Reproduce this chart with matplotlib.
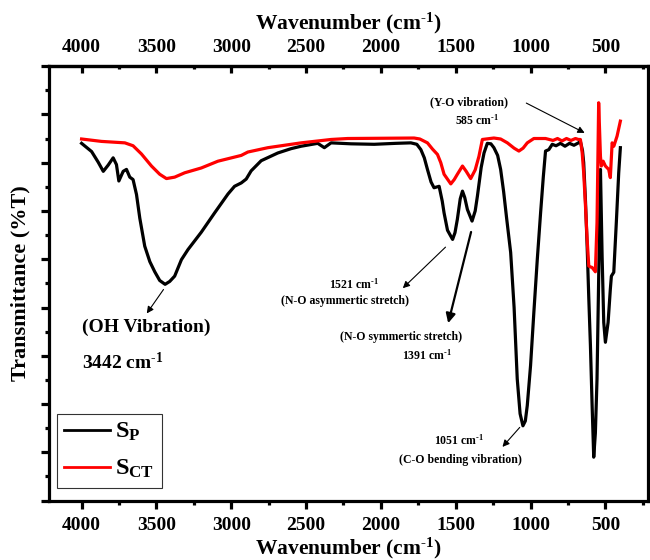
import matplotlib
matplotlib.use("Agg")
import matplotlib.pyplot as plt
from matplotlib.ticker import MultipleLocator

plt.rcParams['font.family'] = 'Liberation Serif'
plt.rcParams['font.weight'] = 'bold'
plt.rcParams['mathtext.fontset'] = 'custom'
plt.rcParams['mathtext.rm'] = 'Liberation Serif:bold'
plt.rcParams['mathtext.it'] = 'Liberation Serif:bold'
plt.rcParams['mathtext.bf'] = 'Liberation Serif:bold'

# FTIR spectra (wavenumber in cm-1, transmittance in arbitrary %T units)
wn_p = [4000, 3933, 3889, 3855, 3822, 3789, 3767, 3751, 3722, 3700, 3678, 3656,
        3633, 3611, 3578, 3544, 3511, 3478, 3442, 3411, 3378, 3333, 3289, 3200,
        3111, 3022, 2978, 2933, 2900, 2867, 2800, 2689, 2600, 2533, 2422, 2378,
        2333, 2200, 2045, 1900, 1800, 1760, 1733, 1710, 1689, 1665, 1645, 1611,
        1590, 1578, 1555, 1521, 1505, 1489, 1470, 1455, 1440, 1422, 1391, 1370,
        1355, 1330, 1311, 1289, 1265, 1245, 1220, 1200, 1180, 1160, 1133, 1110,
        1089, 1070, 1051, 1035, 1022, 1000, 978, 955, 933, 915, 900, 878, 855,
        830, 800, 770, 740, 710, 680, 667, 653, 645, 633, 622, 611, 600, 589,
        578, 567, 556, 545, 533, 522, 511, 500, 482, 467, 460, 444, 427, 411, 400]
t_p = [74.0, 72.3, 70.1, 68.2, 69.5, 71.0, 69.6, 66.2, 68.2, 68.6, 67.0, 66.5,
       63.4, 58.5, 52.7, 49.5, 47.4, 45.6, 44.8, 45.4, 46.5, 49.9, 52.0, 55.6,
       59.6, 63.5, 65.1, 65.8, 66.6, 68.3, 70.4, 72.0, 72.9, 73.4, 74.0, 73.1,
       74.1, 73.9, 73.8, 74.0, 74.1, 73.8, 72.7, 71.0, 68.6, 66.0, 64.8, 65.1,
       62.0, 59.6, 56.0, 54.1, 55.5, 58.3, 62.5, 64.1, 62.8, 60.3, 57.9, 60.0,
       63.1, 69.0, 72.0, 74.0, 73.9, 73.1, 71.5, 68.6, 64.0, 58.5, 51.4, 40.0,
       25.2, 18.0, 15.5, 16.5, 19.7, 28.0, 39.0, 50.0, 59.6, 67.0, 72.4, 72.7, 73.8,
       73.5, 74.0, 73.4, 74.0, 73.6, 74.1, 74.4, 72.5, 70.0, 62.0, 52.7, 42.0, 32.1, 20.0,
       9.0, 14.0, 25.2, 45.9, 68.6, 50.7, 36.9, 32.8, 36.9, 43.8, 46.5, 47.3, 57.6, 67.9, 73.1]

wn_ct = [4000, 3867, 3711, 3656, 3600, 3533, 3478, 3433, 3378, 3311, 3200, 3089,
         2933, 2889, 2755, 2533, 2333, 2222, 1778, 1740, 1689, 1655, 1622, 1600,
         1578, 1533, 1510, 1489, 1455, 1430, 1400, 1370, 1345, 1322, 1245, 1200,
         1155, 1110, 1078, 1050, 1022, 978, 900, 850, 820, 790, 760, 730, 700,
         680, 667, 655, 645, 633, 622, 611, 600, 589, 567, 556, 545, 533, 527,
         515, 500, 478, 467, 455, 444, 422, 400]
t_ct = [74.9, 74.4, 74.1, 73.5, 71.8, 69.3, 67.6, 66.7, 67.0, 67.9, 68.9, 70.3,
        71.5, 72.2, 73.1, 74.1, 74.8, 75.0, 75.1, 74.9, 74.1, 72.8, 71.7, 70.0,
        67.6, 65.6, 66.5, 67.6, 69.3, 68.2, 66.7, 68.5, 71.3, 74.8, 75.1, 74.9,
        74.1, 73.0, 72.4, 73.0, 74.1, 75.0, 75.0, 74.6, 75.0, 74.5, 75.0, 74.6, 75.0,
        74.8, 74.8, 72.0, 67.9, 61.0, 54.1, 48.6, 48.4, 48.3, 47.4, 57.6, 82.4, 71.3, 69.3,
        70.3, 69.3, 68.6, 66.9, 74.1, 73.4, 75.5, 78.6]

tick_wn = [4000, 3500, 3000, 2500, 2000, 1500, 1000, 500]

fig = plt.figure(figsize=(6.5, 5.6), dpi=100)
ax = fig.add_axes([0.076, 0.106, 0.921, 0.776])

ax.plot(wn_p, t_p, color='black', lw=2.3, solid_joinstyle='round',
        label=r'S$_{\mathregular{P}}$')
ax.plot(wn_ct, t_ct, color='#ff0000', lw=2.3, solid_joinstyle='round',
        label=r'S$_{\mathregular{CT}}$')

ax.set_xlim(4215, 215)
ax.set_ylim(0, 90)
ax.set_xticks(tick_wn)
ax.xaxis.set_minor_locator(MultipleLocator(250))
ax.yaxis.set_major_locator(MultipleLocator(10))
ax.yaxis.set_minor_locator(MultipleLocator(5))
ax.set_yticklabels([])

for s in ax.spines.values():
    s.set_linewidth(2.3)
ax.tick_params(axis='x', which='major', direction='out', length=6, width=2.3,
               labelsize=14, pad=6)
ax.tick_params(axis='x', which='minor', direction='out', length=3, width=2.3)
ax.tick_params(axis='y', which='major', direction='out', length=6, width=2.3)
ax.tick_params(axis='y', which='minor', direction='out', length=3, width=2.3)
for lab in ax.get_xticklabels():
    lab.set_fontweight('bold')

unit = r'cm$^{\text{-1}}$'
ax.set_xlabel('Wavenumber (' + unit + ')', fontsize=15.5, fontweight='bold',
              labelpad=1)
ax.set_ylabel('Transmittance (%T)', fontsize=16, fontweight='bold', labelpad=4)

# top axis mirrors the wavenumber scale
top = ax.secondary_xaxis('top')
top.set_xticks(tick_wn)
top.xaxis.set_minor_locator(MultipleLocator(250))
top.tick_params(axis='x', which='major', direction='in', length=5, width=2.3,
                labelsize=14, pad=7.5)
top.tick_params(axis='x', which='minor', direction='in', length=2, width=2.3)
top.spines['top'].set_linewidth(2.3)
for lab in top.get_xticklabels():
    lab.set_fontweight('bold')
top.set_xlabel('Wavenumber (' + unit + ')', fontsize=15.5, fontweight='bold',
               labelpad=7)

# peak assignments
thin = dict(arrowstyle='-|>', color='black', lw=0.8, mutation_scale=10)
ax.annotate('', xy=(3575, 38.3), xytext=(3442, 44.2), arrowprops=thin)
ax.text(4000, 35.8, '(OH Vibration)', fontsize=14, fontweight='bold',
        ha='left', va='center')
ax.text(4000, 28.6, '3442 ' + unit, fontsize=14, fontweight='bold',
        ha='left', va='center')

ax.annotate('', xy=(1867, 43.6), xytext=(1555, 52.9), arrowprops=thin)
ax.text(2180, 44.8, '1521 ' + unit, fontsize=8.5,
        fontweight='bold', ha='center', va='center')
ax.text(2240, 41.3, '(N-O asymmertic stretch)', fontsize=8.5,
        fontweight='bold', ha='center', va='center')

ax.annotate('', xy=(1555, 36.2), xytext=(1393, 56.2),
            arrowprops=dict(arrowstyle='-|>', color='black', lw=1.6,
                            mutation_scale=14))
ax.text(1867, 33.9, '(N-O symmertic stretch)', fontsize=8.5,
        fontweight='bold', ha='center', va='center')
ax.text(1690, 30.0, '1391 ' + unit, fontsize=8.5,
        fontweight='bold', ha='center', va='center')

ax.annotate('', xy=(1200, 10.7), xytext=(1060, 15.6), arrowprops=thin)
ax.text(1480, 12.6, '1051 ' + unit, fontsize=8.5,
        fontweight='bold', ha='center', va='center')
ax.text(1467, 8.5, '(C-O bending vibration)', fontsize=8.5,
        fontweight='bold', ha='center', va='center')

ax.annotate('', xy=(622, 75.9), xytext=(1045, 82.6), arrowprops=thin)
ax.text(1413, 82.6, '(Y-O vibration)', fontsize=8.5,
        fontweight='bold', ha='center', va='center')
ax.text(1360, 78.8, '585 ' + unit, fontsize=8.5,
        fontweight='bold', ha='center', va='center')

leg = ax.legend(loc='lower left', bbox_to_anchor=(0.0125, 0.03), fontsize=17.5,
                frameon=True, fancybox=False, edgecolor='black',
                handlelength=1.9, handletextpad=0.2, borderaxespad=0,
                borderpad=0.3, labelspacing=0.6)
leg.get_frame().set_linewidth(0.8)
for line in leg.get_lines():
    line.set_linewidth(2.0)

fig.savefig('out.png', dpi=100)
